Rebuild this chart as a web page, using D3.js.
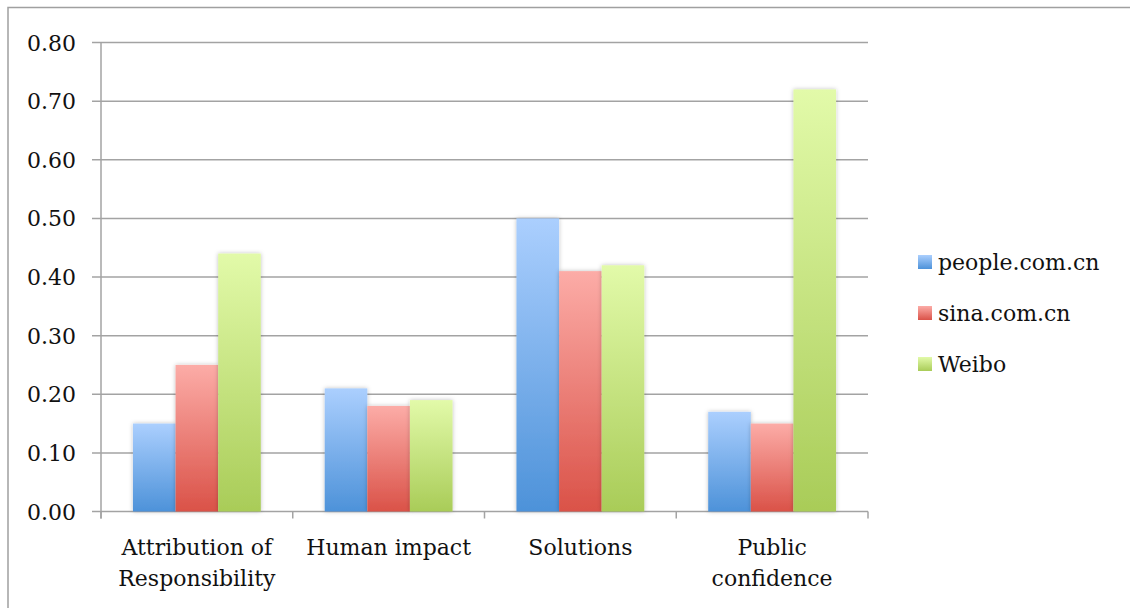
<!DOCTYPE html>
<html>
  <head>
    <meta charset="utf-8">
    <script src="https://d3js.org/d3.v7.min.js"></script>
    <style>
      body { margin: 0; background: #fff; }
      text { font-family: "DejaVu Serif", "Liberation Serif", serif; fill: #111; }
    </style>
  </head>
  <body>
    <div id="chart"></div>
    <script type="text/javascript">
    // data
    var categories = ["Attribution of\nResponsibility", "Human impact", "Solutions", "Public\nconfidence"];
    var seriesNames = ["people.com.cn", "sina.com.cn", "Weibo"];
    var people = [0.15, 0.21, 0.50, 0.17];
    var sina = [0.25, 0.18, 0.41, 0.15];
    var weibo = [0.44, 0.19, 0.42, 0.72];
    var yTicks = [0, 0.1, 0.2, 0.3, 0.4, 0.5, 0.6, 0.7, 0.8];

    var seriesValues = [people, sina, weibo];
    // top and bottom colours of the gradient for each series
    var gradColours = [["#abcffe", "#4d92d9"], ["#fcaca7", "#da5248"], ["#e2faa9", "#a9cc58"]];

    var width = 1130, height = 608;
    var plotLeft = 101, plotRight = 868, plotTop = 42.5, plotBottom = 511.5;

    var svg = d3.select("#chart").append("svg")
      .attr("width", width)
      .attr("height", height);

    var defs = svg.append("defs");
    gradColours.forEach(function(c, i) {
      var g = defs.append("linearGradient")
        .attr("id", "grad" + i)
        .attr("x1", 0).attr("y1", 0).attr("x2", 0).attr("y2", 1);
      g.append("stop").attr("offset", "0%").attr("stop-color", c[0]);
      g.append("stop").attr("offset", "100%").attr("stop-color", c[1]);
    });
    var shadow = defs.append("filter").attr("id", "shadow")
      .attr("x", "-20%").attr("y", "-5%").attr("width", "140%").attr("height", "110%");
    shadow.append("feDropShadow")
      .attr("dx", 0).attr("dy", 0).attr("stdDeviation", 2)
      .attr("flood-color", "#000").attr("flood-opacity", 0.25);

    // outer frame
    svg.append("rect")
      .attr("x", 8).attr("y", 7.5)
      .attr("width", 1200).attr("height", 700)
      .attr("fill", "none")
      .attr("stroke", "#a0a0a0")
      .attr("stroke-width", 1.5);

    var y = d3.scaleLinear().domain([0, 0.8]).range([plotBottom, plotTop]);
    var x0 = d3.scaleBand().domain(d3.range(categories.length)).range([plotLeft, plotRight]);
    var x1 = d3.scaleBand().domain(d3.range(seriesNames.length))
      .range([0, x0.bandwidth()]).paddingOuter(0.75).paddingInner(0);

    // gridlines
    svg.append("g").selectAll("line")
      .data(yTicks)
      .enter().append("line")
      .attr("x1", plotLeft - 9).attr("x2", plotRight)
      .attr("y1", function(d) { return y(d); })
      .attr("y2", function(d) { return y(d); })
      .attr("stroke", "#a3a3a3")
      .attr("stroke-width", 1.5);

    // y axis line
    svg.append("line")
      .attr("x1", plotLeft).attr("x2", plotLeft)
      .attr("y1", plotTop).attr("y2", plotBottom + 7)
      .attr("stroke", "#a3a3a3").attr("stroke-width", 1.5);

    // x ticks
    svg.append("g").selectAll("line")
      .data(d3.range(categories.length + 1))
      .enter().append("line")
      .attr("x1", function(d) { return plotLeft + d * x0.step(); })
      .attr("x2", function(d) { return plotLeft + d * x0.step(); })
      .attr("y1", plotBottom).attr("y2", plotBottom + 7)
      .attr("stroke", "#a3a3a3").attr("stroke-width", 1.5);

    // y tick labels
    svg.append("g").selectAll("text")
      .data(yTicks)
      .enter().append("text")
      .attr("x", 76)
      .attr("y", function(d) { return y(d) + 8; })
      .attr("text-anchor", "end")
      .style("font-size", "22px")
      .text(function(d) { return d3.format(".2f")(d); });

    // bars
    seriesValues.forEach(function(vals, s) {
      svg.append("g").selectAll("rect")
        .data(vals)
        .enter().append("rect")
        .attr("x", function(d, i) { return x0(i) + x1(s); })
        .attr("y", function(d) { return y(d); })
        .attr("width", x1.bandwidth())
        .attr("height", function(d) { return plotBottom - y(d); })
        .attr("fill", "url(#grad" + s + ")")
        .attr("filter", "url(#shadow)");
    });

    // category labels
    var catLabels = svg.append("g").selectAll("text")
      .data(categories)
      .enter().append("text")
      .attr("text-anchor", "middle")
      .style("font-size", "22px");
    catLabels.each(function(d, i) {
      var lines = d.split("\n");
      var t = d3.select(this);
      lines.forEach(function(l, j) {
        t.append("tspan")
          .attr("x", x0(i) + x0.bandwidth() / 2)
          .attr("y", 555 + j * 31)
          .text(l);
      });
    });

    // legend
    var legend = svg.append("g").selectAll("g")
      .data(seriesNames)
      .enter().append("g")
      .attr("transform", function(d, i) { return "translate(918," + (262 + i * 51) + ")"; });
    legend.append("rect")
      .attr("x", 0).attr("y", -7)
      .attr("width", 14).attr("height", 14)
      .attr("fill", function(d, i) { return "url(#grad" + i + ")"; });
    legend.append("text")
      .attr("x", 20).attr("y", 8)
      .style("font-size", "22px")
      .text(function(d) { return d; });
    </script>
  </body>
</html>
